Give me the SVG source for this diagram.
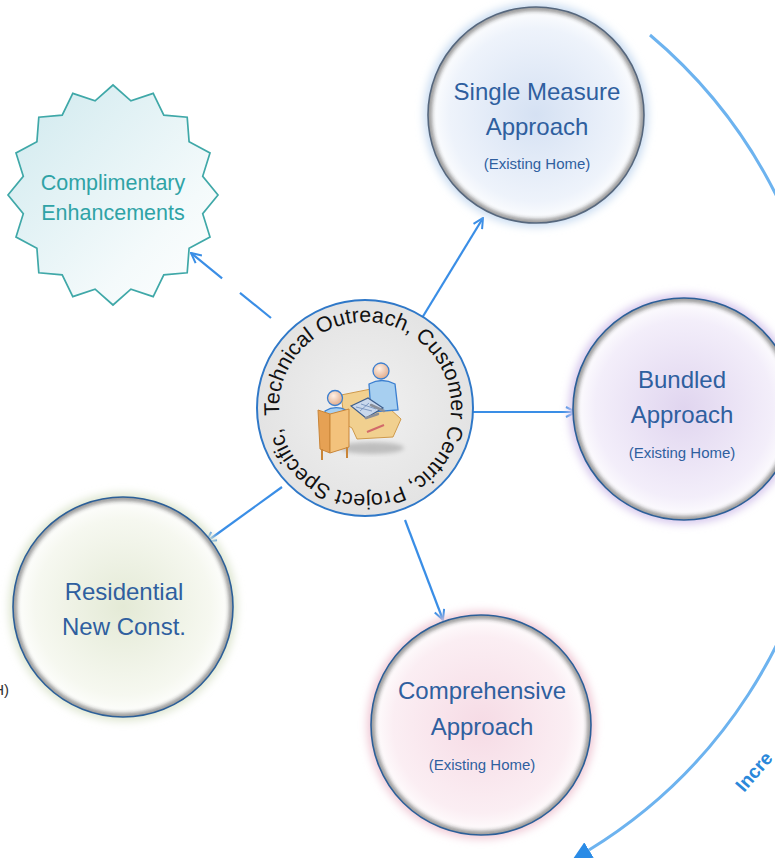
<svg xmlns="http://www.w3.org/2000/svg" width="775" height="858" viewBox="0 0 775 858">
<defs>
<style>
.title{font-family:"Liberation Sans",Arial,sans-serif;font-size:24px;fill:#2f5f9f;text-anchor:middle}
.sub{font-family:"Liberation Sans",Arial,sans-serif;font-size:15px;fill:#2f5f9f;text-anchor:middle}
.conn{stroke:#3a8ee6;stroke-width:2.2;fill:none}
.ring{fill:none;stroke:#2c5f98;stroke-width:1.6}
.shade{fill:none;stroke:#222;stroke-width:5;opacity:.55}
</style>
<filter id="glow" x="-20%" y="-20%" width="140%" height="140%"><feGaussianBlur stdDeviation="4"/></filter>
<filter id="soft" x="-20%" y="-20%" width="140%" height="140%"><feGaussianBlur stdDeviation="2"/></filter>
<radialGradient id="gSingle" cx="50%" cy="50%" r="50%"><stop offset="0" stop-color="#d5e1f3"/><stop offset="0.8" stop-color="#eef3fb"/><stop offset="1" stop-color="#ffffff"/></radialGradient>
<radialGradient id="gBundled" cx="50%" cy="50%" r="50%"><stop offset="0" stop-color="#e0d5ef"/><stop offset="0.8" stop-color="#f3eefa"/><stop offset="1" stop-color="#ffffff"/></radialGradient>
<radialGradient id="gComp" cx="50%" cy="50%" r="50%"><stop offset="0" stop-color="#f6dbe5"/><stop offset="0.8" stop-color="#fbeef3"/><stop offset="1" stop-color="#ffffff"/></radialGradient>
<radialGradient id="gRes" cx="50%" cy="50%" r="50%"><stop offset="0" stop-color="#e4ead6"/><stop offset="0.8" stop-color="#f6f8f0"/><stop offset="1" stop-color="#ffffff"/></radialGradient>
<radialGradient id="gCenter" cx="50%" cy="50%" r="50%"><stop offset="0" stop-color="#f1f1f1"/><stop offset="1" stop-color="#e3e3e3"/></radialGradient>
<linearGradient id="gStar" x1="0" y1="0" x2="1" y2="1"><stop offset="0" stop-color="#cfe9ee"/><stop offset="0.7" stop-color="#f4fafb"/><stop offset="1" stop-color="#ffffff"/></linearGradient>
<radialGradient id="gSkin" cx="40%" cy="35%" r="60%"><stop offset="0" stop-color="#fff1e6"/><stop offset="1" stop-color="#e4b294"/></radialGradient>
<marker id="open" viewBox="0 0 12 12" refX="11" refY="6" markerWidth="12" markerHeight="12" markerUnits="userSpaceOnUse" orient="auto"><path d="M1,1 L11,6 L1,11" fill="none" stroke="#3a8ee6" stroke-width="2"/></marker>
<marker id="solid" viewBox="0 0 20 18" refX="0" refY="9" markerWidth="20" markerHeight="18" markerUnits="userSpaceOnUse" orient="auto"><path d="M0,0 L20,9 L0,18 Z" fill="#2a8be6"/></marker>
<clipPath id="cSingle"><circle cx="536" cy="115" r="108"/></clipPath>
<clipPath id="cBundled"><circle cx="684" cy="409" r="111"/></clipPath>
<clipPath id="cComp"><circle cx="481" cy="725" r="110"/></clipPath>
<clipPath id="cRes"><circle cx="123" cy="607" r="110"/></clipPath>
<path id="ringText" d="M279.3,415.5 A86,86 0 1 1 450.7,400.5 A86,86 0 1 1 279.3,415.5"/>
</defs>
<rect width="775" height="858" fill="#ffffff"/>

<g id="connectors">
<path d="M650,35 A504,504 0 0 1 589,850" fill="none" stroke="#6db3ef" stroke-width="3" marker-end="url(#solid)"/>
<line class="conn" x1="422" y1="318" x2="483" y2="218" marker-end="url(#open)"/>
<line class="conn" x1="472" y1="412" x2="576" y2="412" marker-end="url(#open)"/>
<line class="conn" x1="405" y1="520" x2="443" y2="620" marker-end="url(#open)"/>
<line class="conn" x1="282" y1="487" x2="206" y2="542" marker-end="url(#open)"/>
<line class="conn" x1="271" y1="318" x2="191" y2="253" stroke-dasharray="40 23" marker-end="url(#open)"/>
<text x="0" y="0" transform="translate(744,793) rotate(-49)" font-family="Liberation Sans,Arial,sans-serif" font-size="19" font-weight="bold" fill="#2a88da">Incre</text>
</g>

<g id="complimentary">
<polygon points="113,85 130.9,100.8 153.2,93.4 163.8,115.2 187.2,117.2 189.1,141.7 210,152.9 202.7,176.3 218,195 202.7,213.7 210,237.1 189.1,248.3 187.2,272.8 163.8,274.8 153.2,296.6 130.9,289.2 113,305 95.1,289.2 72.8,296.6 62.2,274.8 38.8,272.8 36.9,248.3 16,237.1 23.3,213.7 8,195 23.3,176.3 16,152.9 36.9,141.7 38.8,117.2 62.2,115.2 72.8,93.4 95.1,100.8" fill="url(#gStar)" stroke="#3fa8a8" stroke-width="1.7"/>
<text x="113" y="190" font-family="Liberation Sans,Arial,sans-serif" font-size="21.5" fill="#2fa3a6" text-anchor="middle">Complimentary</text>
<text x="113" y="220" font-family="Liberation Sans,Arial,sans-serif" font-size="21.5" fill="#2fa3a6" text-anchor="middle">Enhancements</text>
</g>

<g id="single-measure">
<circle cx="536" cy="115" r="112" fill="#c9dcf1" filter="url(#glow)"/>
<circle cx="536" cy="115" r="108" fill="url(#gSingle)"/>
<circle class="shade" cx="536" cy="115" r="107" clip-path="url(#cSingle)" filter="url(#soft)"/>
<circle cx="536" cy="115" r="108" fill="none" stroke="#56677d" stroke-width="1.6"/>
<text class="title" x="537" y="100">Single Measure</text>
<text class="title" x="537" y="135">Approach</text>
<text class="sub" x="537" y="169">(Existing Home)</text>
</g>

<g id="bundled">
<circle cx="684" cy="409" r="115" fill="#d6c6ec" filter="url(#glow)"/>
<circle cx="684" cy="409" r="111" fill="url(#gBundled)"/>
<circle class="shade" cx="684" cy="409" r="110" clip-path="url(#cBundled)" filter="url(#soft)"/>
<circle class="ring" cx="684" cy="409" r="111"/>
<text class="title" x="682" y="388">Bundled</text>
<text class="title" x="682" y="423">Approach</text>
<text class="sub" x="682" y="458">(Existing Home)</text>
</g>

<g id="comprehensive">
<circle cx="481" cy="725" r="114" fill="#f0c9d6" filter="url(#glow)"/>
<circle cx="481" cy="725" r="110" fill="url(#gComp)"/>
<circle class="shade" cx="481" cy="725" r="109" clip-path="url(#cComp)" filter="url(#soft)"/>
<circle class="ring" cx="481" cy="725" r="110"/>
<text class="title" x="482" y="699">Comprehensive</text>
<text class="title" x="482" y="735">Approach</text>
<text class="sub" x="482" y="770">(Existing Home)</text>
</g>

<g id="residential">
<circle cx="123" cy="607" r="114" fill="#dde5cf" filter="url(#glow)"/>
<circle cx="123" cy="607" r="110" fill="url(#gRes)"/>
<circle class="shade" cx="123" cy="607" r="109" clip-path="url(#cRes)" filter="url(#soft)"/>
<circle class="ring" cx="123" cy="607" r="110"/>
<text class="title" x="124" y="600">Residential</text>
<text class="title" x="124" y="635">New Const.</text>
</g>

<g id="center">
<circle cx="365" cy="408" r="108" fill="url(#gCenter)" stroke="#2f78c8" stroke-width="2"/>
<text font-family="Liberation Sans,Arial,sans-serif" font-size="21.4" fill="#111"><textPath href="#ringText">Technical Outreach, Customer Centric, Project Specific,</textPath></text>
<g id="icon">
<ellipse cx="372" cy="448" rx="32" ry="6" fill="#888" opacity="0.45" filter="url(#soft)"/>
<polygon points="341,395 371,389 378,398 401,419 393,437 357,439 352,428 345,424" fill="#f1d08f" stroke="#cf9a4c" stroke-width="1"/>
<circle cx="381" cy="371" r="8" fill="url(#gSkin)" stroke="#3b7fd0" stroke-width="1.3"/>
<path d="M369,384 Q382,377 395,384 L398,410 L371,412 Z" fill="#a7cff0" stroke="#3b7fd0" stroke-width="1.3"/>
<polygon points="351,406 368,398 383,408 366,418" fill="#c9d8ec" stroke="#3d5e8c" stroke-width="1.2"/>
<path d="M356,407 L372,411 M361,404 L376,409 M360,411 L369,403" stroke="#6d8bb8" stroke-width="0.8"/>
<path d="M371,405 L384,411 M366,418 L378,414" stroke="#8a8f99" stroke-width="2.5" stroke-linecap="round"/>
<line x1="367" y1="432" x2="384" y2="425" stroke="#d26a6a" stroke-width="2"/>
<circle cx="335" cy="398" r="7.5" fill="url(#gSkin)" stroke="#3b7fd0" stroke-width="1.3"/>
<path d="M325,411 Q335,405 346,410 L347,425 L326,425 Z" fill="#a7cff0" stroke="#3b7fd0" stroke-width="1.2"/>
<polygon points="318,410 330,414 330,453 320,449" fill="#e6a154" stroke="#c98538" stroke-width="1"/>
<polygon points="330,414 349,409 349,447 330,453" fill="#f3c27c" stroke="#c98538" stroke-width="1"/>
<path d="M322,449 L322,460 M347,447 L347,458" stroke="#c98538" stroke-width="2"/>
</g>
</g>

<text x="9" y="695" font-family="Liberation Sans,Arial,sans-serif" font-size="15" fill="#333" text-anchor="end">H)</text>
</svg>
